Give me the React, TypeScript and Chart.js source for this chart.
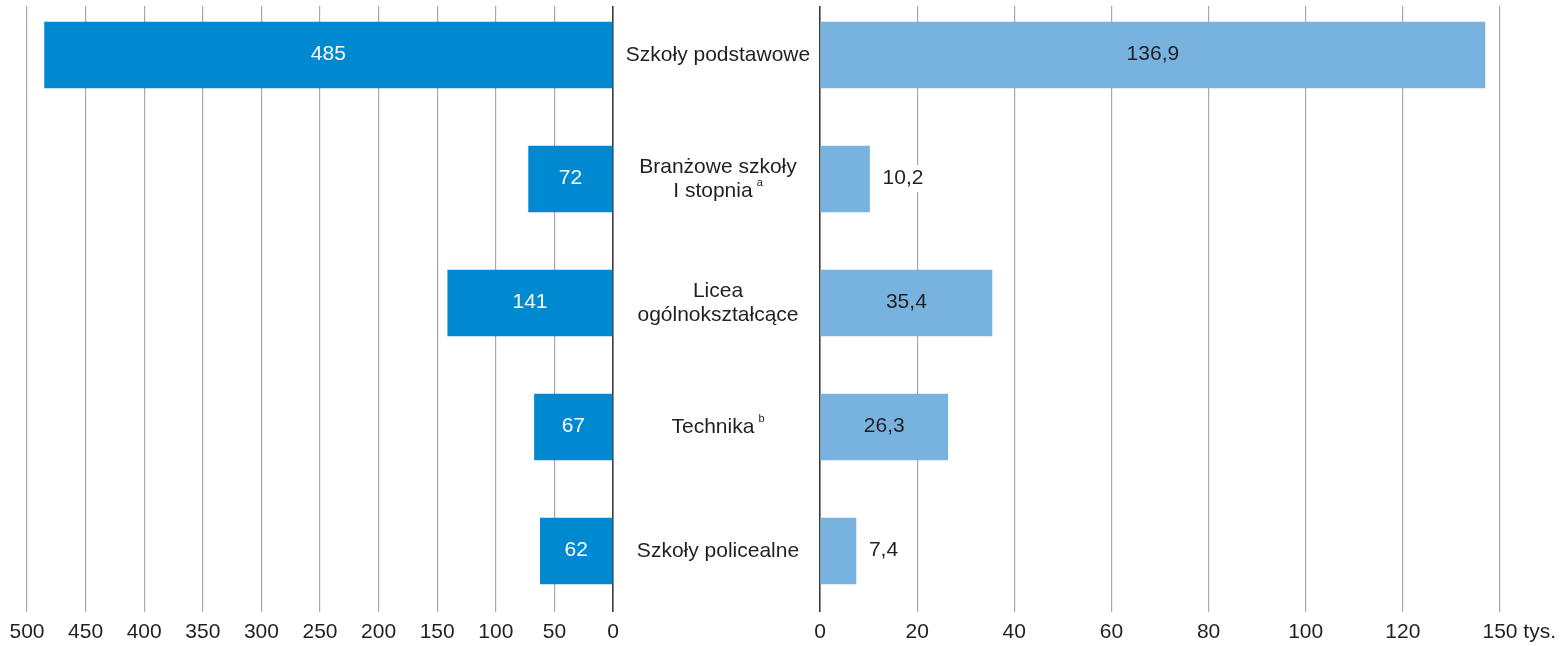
import { useEffect, useRef } from 'react';
import { Chart, registerables } from 'chart.js';

Chart.register(...registerables);

// ---- data ----
const categories: string[][] = [
  ['Szkoły podstawowe'],
  ['Branżowe szkoły', 'I stopnia'],
  ['Licea', 'ogólnokształcące'],
  ['Technika'],
  ['Szkoły policealne'],
];
const footnotes: string[] = ['', 'a', '', 'b', ''];
const schools: number[] = [485, 72, 141, 67, 62];
const graduatesThousands: number[] = [136.9, 10.2, 35.4, 26.3, 7.4];
const leftTickValues: number[] = [0, 50, 100, 150, 200, 250, 300, 350, 400, 450, 500];
const leftTickLabels: string[] = ['0', '50', '100', '150', '200', '250', '300', '350', '400', '450', '500'];
const rightTickValues: number[] = [0, 20, 40, 60, 80, 100, 120, 140];
const rightTickLabels: string[] = ['0', '20', '40', '60', '80', '100', '120', '150'];
const rightUnit = 'tys.';

// ---- style ----
const FONT_FAMILY = '"Liberation Sans", Arial, Helvetica, sans-serif';
const FONT_SIZE = 21;
const TEXT_COLOR = '#231f20';
const LEFT_COLOR = '#0088d0';
const RIGHT_COLOR = '#78b3e0';
const GRID_COLOR = '#a8a8a8';
const ZERO_COLOR = '#3c3c3c';
const Y_MIN = -0.395;
const Y_MAX = 4.492;
const H = 646;
const LEFT_W = 620;
const RIGHT_X = 620;
const RIGHT_W = 942;
const TICK_PAD = 8;

const fmtDec = (v: number) => v.toFixed(1).replace('.', ',');
const fmtInt = (v: number) => String(Math.round(v));

function gridOpts() {
  return {
    drawTicks: false,
    color: (c: any) => (c.tick && c.tick.value === 0 ? ZERO_COLOR : GRID_COLOR),
    lineWidth: (c: any) => (c.tick && c.tick.value === 0 ? 1.6 : 1.2),
  };
}

function yScale() {
  return {
    type: 'linear' as const,
    reverse: true,
    offset: false,
    min: Y_MIN,
    max: Y_MAX,
    display: false,
  };
}

function valueLabelPlugin(fmt: (v: number) => string, inside: string, outside: string) {
  return {
    id: 'valueLabels',
    afterDatasetsDraw(chart: any) {
      const meta = chart.getDatasetMeta(0);
      const ctx = chart.ctx as CanvasRenderingContext2D;
      ctx.save();
      ctx.font = `${FONT_SIZE}px ${FONT_FAMILY}`;
      ctx.textBaseline = 'middle';
      meta.data.forEach((bar: any, i: number) => {
        const { x, y, base } = bar.getProps(['x', 'y', 'base'], true);
        const raw = chart.data.datasets[0].data[i].x as number;
        const text = fmt(raw);
        const w = ctx.measureText(text).width;
        const len = Math.abs(x - base);
        if (len >= w + 24) {
          ctx.fillStyle = inside;
          ctx.textAlign = 'center';
          ctx.fillText(text, (x + base) / 2, y - 1);
        } else {
          const dir = x >= base ? 1 : -1;
          const tx = x + dir * 13;
          ctx.fillStyle = '#ffffff';
          const rx = dir > 0 ? tx - 3 : tx - w - 3;
          ctx.fillRect(rx, y - 14, w + 6, 27);
          ctx.fillStyle = outside;
          ctx.textAlign = dir > 0 ? 'left' : 'right';
          ctx.fillText(text, tx, y - 1);
        }
      });
      ctx.restore();
    },
  };
}

const categoryPlugin = {
  id: 'categoryLabels',
  afterDraw(chart: any) {
    const ctx = chart.ctx as CanvasRenderingContext2D;
    const ys = chart.scales.y;
    const xs = chart.scales.x;
    const cx = 718 - RIGHT_X;
    const lineH = 24.5;
    ctx.save();
    ctx.fillStyle = TEXT_COLOR;
    ctx.textBaseline = 'middle';
    categories.forEach((lines, i) => {
      const yc = ys.getPixelForValue(i);
      lines.forEach((line, j) => {
        const ly = yc + (j - (lines.length - 1) / 2) * lineH;
        const isLast = j === lines.length - 1;
        const sup = isLast ? footnotes[i] : '';
        ctx.font = `${FONT_SIZE}px ${FONT_FAMILY}`;
        const w = ctx.measureText(line).width;
        let sw = 0;
        const gap = 4;
        if (sup) {
          ctx.font = `11px ${FONT_FAMILY}`;
          sw = ctx.measureText(sup).width + gap;
        }
        const start = cx - (w + sw) / 2;
        ctx.font = `${FONT_SIZE}px ${FONT_FAMILY}`;
        ctx.textAlign = 'left';
        ctx.fillText(line, start, ly);
        if (sup) {
          ctx.font = `11px ${FONT_FAMILY}`;
          ctx.fillText(sup, start + w + gap, ly - 8);
        }
      });
    });
    // unit after last tick label
    const lastIdx = rightTickValues.length - 1;
    const px = xs.getPixelForValue(rightTickValues[lastIdx]);
    ctx.font = `${FONT_SIZE}px ${FONT_FAMILY}`;
    const lw = ctx.measureText(rightTickLabels[lastIdx]).width;
    const sp = ctx.measureText(' ').width;
    ctx.textAlign = 'left';
    ctx.fillText(rightUnit, px + lw / 2 + sp, xs.top + TICK_PAD + (FONT_SIZE * 1.2) / 2);
    ctx.restore();
  },
};

export default function App() {
  const leftRef = useRef<HTMLCanvasElement>(null);
  const rightRef = useRef<HTMLCanvasElement>(null);

  useEffect(() => {
    Chart.defaults.font.family = FONT_FAMILY;
    Chart.defaults.font.size = FONT_SIZE;
    Chart.defaults.color = TEXT_COLOR;

    const left = new Chart(leftRef.current as HTMLCanvasElement, {
      type: 'bar',
      data: {
        datasets: [
          {
            label: 'Szkoły',
            data: schools.map((v, i) => ({ x: v, y: i })) as any,
            backgroundColor: LEFT_COLOR,
            barThickness: 66,
          },
        ],
      },
      options: {
        indexAxis: 'y',
        animation: false,
        responsive: false,
        layout: { padding: { left: 27, right: 7, top: 6, bottom: 0 } },
        plugins: { legend: { display: false }, tooltip: { enabled: false } },
        scales: {
          x: {
            type: 'linear',
            reverse: true,
            min: 0,
            max: 500,
            border: { display: false },
            grid: gridOpts() as any,
            afterBuildTicks: (s: any) => {
              s.ticks = leftTickValues.map((v) => ({ value: v }));
            },
            afterFit: (s: any) => {
              s.height = H - 612;
            },
            ticks: {
              padding: TICK_PAD,
              maxRotation: 0,
              autoSkip: false,
              callback: (_v: any, i: number) => leftTickLabels[i],
            },
          },
          y: yScale(),
        },
      },
      plugins: [valueLabelPlugin(fmtInt, '#ffffff', '#ffffff')],
    });

    const right = new Chart(rightRef.current as HTMLCanvasElement, {
      type: 'bar',
      data: {
        datasets: [
          {
            label: 'Absolwenci',
            data: graduatesThousands.map((v, i) => ({ x: v, y: i })) as any,
            backgroundColor: RIGHT_COLOR,
            barThickness: 66,
          },
        ],
      },
      options: {
        indexAxis: 'y',
        animation: false,
        responsive: false,
        layout: { padding: { left: 200, right: 62, top: 6, bottom: 0 } },
        plugins: { legend: { display: false }, tooltip: { enabled: false } },
        scales: {
          x: {
            type: 'linear',
            min: 0,
            max: 140,
            border: { display: false },
            grid: gridOpts() as any,
            afterBuildTicks: (s: any) => {
              s.ticks = rightTickValues.map((v) => ({ value: v }));
            },
            afterFit: (s: any) => {
              s.height = H - 612;
            },
            ticks: {
              padding: TICK_PAD,
              maxRotation: 0,
              autoSkip: false,
              callback: (_v: any, i: number) => rightTickLabels[i],
            },
          },
          y: yScale(),
        },
      },
      plugins: [valueLabelPlugin(fmtDec, TEXT_COLOR, TEXT_COLOR), categoryPlugin],
    });

    return () => {
      left.destroy();
      right.destroy();
    };
  }, []);

  return (
    <div style={{ position: 'fixed', left: 0, top: 0, width: 1562, height: H, background: '#fff' }}>
      <canvas
        ref={leftRef}
        width={LEFT_W}
        height={H}
        style={{ position: 'absolute', left: 0, top: 0, width: LEFT_W, height: H }}
      />
      <canvas
        ref={rightRef}
        width={RIGHT_W}
        height={H}
        style={{ position: 'absolute', left: RIGHT_X, top: 0, width: RIGHT_W, height: H }}
      />
    </div>
  );
}
